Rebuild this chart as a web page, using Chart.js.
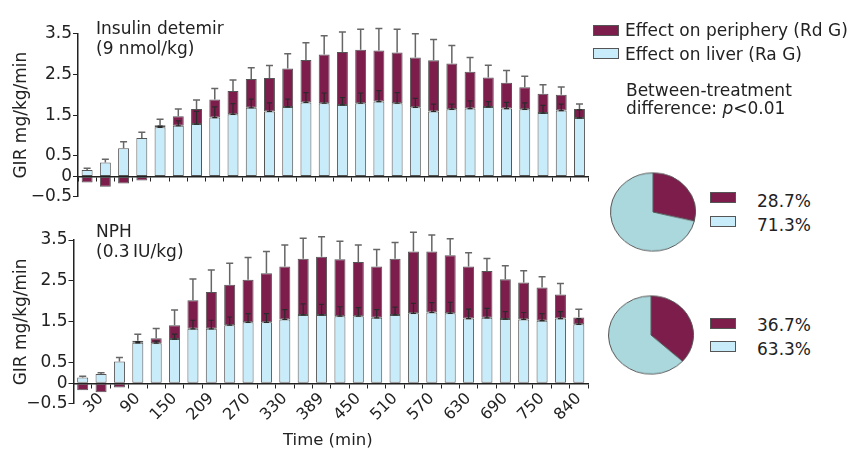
<!DOCTYPE html>
<html>
<head>
<meta charset="utf-8">
<script src="https://cdn.jsdelivr.net/npm/chart.js@4.4.1/dist/chart.umd.min.js"></script>
<style>
  body { margin: 0; background: #fff; font-family: "DejaVu Sans", Verdana, sans-serif; color: #222; }
  #wrap { position: relative; width: 848px; height: 449px; overflow: hidden; }
  .abs { position: absolute; }
  .txt { position: absolute; font-size: 17px; line-height: 20px; white-space: nowrap; }
  .box { position: absolute; width: 24px; height: 9px; border: 1px solid #555; }
</style>
</head>
<body>
<div id="wrap">
  <canvas id="topChart" class="abs" width="600" height="215" style="left:0;top:0"></canvas>
  <canvas id="bottomChart" class="abs" width="600" height="234" style="left:0;top:215px"></canvas>

  <div class="txt" style="left:96px;top:18px">Insulin detemir<br>(9 nmol/kg)</div>
  <div class="txt" style="left:96px;top:221px">NPH<br>(0.3&#8201;IU/kg)</div>
  <div class="txt" style="left:283px;top:430px;font-size:16.5px">Time (min)</div>

  <div class="box" style="left:593px;top:25px;background:#7c1d4c"></div>
  <div class="txt" style="left:625px;top:20px">Effect on periphery (Rd G)</div>
  <div class="box" style="left:593px;top:48px;background:#c8ecfa"></div>
  <div class="txt" style="left:625px;top:44px">Effect on liver (Ra G)</div>
  <div class="txt" style="left:626px;top:81px;line-height:18px">Between-treatment<br>difference: <i>p</i>&lt;0.01</div>

  <div class="abs" style="left:610px;top:169px;transform:scale(1,0.92)"><canvas id="pieTop" width="86" height="86"></canvas></div>
  <div class="box" style="left:710px;top:192px;background:#7c1d4c"></div>
  <div class="box" style="left:710px;top:216px;background:#c8ecfa"></div>
  <div class="txt" style="left:757px;top:189px;line-height:24px">28.7%<br>71.3%</div>

  <div class="abs" style="left:608px;top:292px;transform:scale(1,0.92)"><canvas id="pieBottom" width="86" height="86"></canvas></div>
  <div class="box" style="left:710px;top:318px;background:#7c1d4c"></div>
  <div class="box" style="left:710px;top:341px;background:#c8ecfa"></div>
  <div class="txt" style="left:757px;top:313px;line-height:24px">36.7%<br>63.3%</div>
</div>
<script>
// x labels shown under every other bar
const tickLabels = ['30', '90', '150', '209', '270', '330', '389', '450', '510', '570', '630', '690', '750', '840'];
const yTicks = [-0.5, 0, 0.5, 1.5, 2.5, 3.5];

// insulin detemir
const detemirLiver = [0.16, 0.34, 0.69, 0.94, 1.20, 1.24, 1.28, 1.44, 1.52, 1.68, 1.59, 1.70, 1.81, 1.79, 1.75, 1.79, 1.83, 1.79, 1.69, 1.59, 1.64, 1.66, 1.70, 1.66, 1.64, 1.55, 1.61, 1.43];
const detemirPeriphery = [-0.15, -0.25, -0.17, -0.10, 0.05, 0.23, 0.37, 0.44, 0.57, 0.70, 0.82, 0.94, 1.04, 1.19, 1.29, 1.31, 1.25, 1.24, 1.22, 1.25, 1.12, 0.90, 0.72, 0.63, 0.54, 0.47, 0.39, 0.22];
const detemirErr = [0.04, 0.08, 0.16, 0.14, 0.15, 0.18, 0.22, 0.27, 0.27, 0.28, 0.30, 0.36, 0.42, 0.46, 0.49, 0.50, 0.54, 0.57, 0.58, 0.51, 0.44, 0.35, 0.30, 0.30, 0.27, 0.22, 0.19, 0.12];
const detemirLiverErr = [0, 0, 0, 0, 0.03, 0.12, 0.31, 0.26, 0.26, 0.21, 0.21, 0.19, 0.24, 0.25, 0.18, 0.25, 0.27, 0.26, 0.22, 0.18, 0.13, 0.19, 0.13, 0.15, 0.16, 0.19, 0.16, 0.20];

// NPH
const nphLiver = [0.14, 0.23, 0.53, 0.99, 0.98, 1.08, 1.33, 1.33, 1.42, 1.49, 1.49, 1.56, 1.67, 1.67, 1.64, 1.64, 1.60, 1.67, 1.71, 1.73, 1.71, 1.58, 1.60, 1.57, 1.56, 1.53, 1.58, 1.44];
const nphPeriphery = [-0.17, -0.22, -0.10, 0.05, 0.12, 0.34, 0.70, 0.90, 0.99, 1.04, 1.20, 1.29, 1.37, 1.42, 1.39, 1.32, 1.25, 1.37, 1.51, 1.49, 1.42, 1.27, 1.14, 0.97, 0.90, 0.81, 0.59, 0.17];
const nphErr = [0.03, 0.03, 0.10, 0.16, 0.24, 0.37, 0.52, 0.54, 0.52, 0.54, 0.53, 0.53, 0.50, 0.49, 0.44, 0.42, 0.42, 0.40, 0.47, 0.40, 0.40, 0.34, 0.31, 0.33, 0.29, 0.26, 0.27, 0.20];
const nphLiverErr = [0, 0, 0, 0.03, 0.05, 0.12, 0.21, 0.21, 0.20, 0.21, 0.21, 0.24, 0.27, 0.26, 0.23, 0.21, 0.20, 0.19, 0.24, 0.24, 0.27, 0.23, 0.23, 0.18, 0.17, 0.17, 0.17, 0.14];

const pieDetemir = [28.7, 71.3];
const pieNph = [36.7, 63.3];

const maroon = '#7c1d4c';
const lightBlue = '#c8ecfa';
const pieBlue = '#abd8dd';
const textColor = '#222';

const categories = [];
tickLabels.forEach(t => { categories.push(''); categories.push(t); });

// error bars on top of the stack and on the liver part
const errorBars = {
  id: 'errorBars',
  afterDatasetsDraw(chart, args, opts) {
    const ctx = chart.ctx;
    const y = chart.scales.y;
    const liver = chart.data.datasets[0].data;
    const peri = chart.data.datasets[1].data;
    const meta = chart.getDatasetMeta(0);
    ctx.save();
    for (let i = 0; i < liver.length; i++) {
      const cx = meta.data[i].x;
      const top = liver[i] + Math.max(peri[i], 0);
      const y0 = y.getPixelForValue(top);
      const y1 = y.getPixelForValue(top + opts.total[i]);
      ctx.strokeStyle = '#666';
      ctx.lineWidth = 1.5;
      ctx.beginPath();
      ctx.moveTo(cx, y0); ctx.lineTo(cx, y1);
      ctx.moveTo(cx - 3.5, y1); ctx.lineTo(cx + 3.5, y1);
      ctx.stroke();
      if (peri[i] > 0 && opts.liver[i] > 0) {
        const l0 = y.getPixelForValue(liver[i]);
        const l1 = y.getPixelForValue(liver[i] + opts.liver[i]);
        ctx.strokeStyle = '#2a2a2a';
        ctx.lineWidth = 1.2;
        ctx.beginPath();
        ctx.moveTo(cx, l0); ctx.lineTo(cx, l1);
        ctx.moveTo(cx - 2.5, l1); ctx.lineTo(cx + 2.5, l1);
        ctx.moveTo(cx - 2.5, l0); ctx.lineTo(cx + 2.5, l0);
        ctx.stroke();
      }
    }
    ctx.restore();
  }
};

function barChart(id, liver, periphery, err, liverErr, axisWidth, padding, showLabels) {
  return new Chart(document.getElementById(id), {
    type: 'bar',
    data: {
      labels: categories,
      datasets: [{
        label: 'Effect on liver (Ra G)',
        data: liver,
        backgroundColor: lightBlue,
        borderColor: '#555',
        borderWidth: 1,
        borderSkipped: false,
        barPercentage: 0.6,
        categoryPercentage: 1
      }, {
        label: 'Effect on periphery (Rd G)',
        data: periphery,
        backgroundColor: maroon,
        borderColor: '#555',
        borderWidth: 1,
        borderSkipped: false,
        barPercentage: 0.6,
        categoryPercentage: 1
      }]
    },
    options: {
      responsive: false,
      animation: false,
      layout: { padding: padding },
      plugins: {
        legend: { display: false },
        tooltip: { enabled: false },
        errorBars: { total: err, liver: liverErr }
      },
      scales: {
        x: {
          stacked: true,
          position: { y: 0 },
          grid: { drawOnChartArea: false, drawTicks: true, tickLength: 4, color: '#222' },
          border: { color: '#222', width: 1.5 },
          ticks: {
            display: showLabels,
            autoSkip: false,
            minRotation: 45,
            maxRotation: 45,
            padding: 2,
            color: textColor,
            font: { family: 'DejaVu Sans', size: 16 }
          }
        },
        y: {
          stacked: true,
          min: -0.5,
          max: 3.5,
          afterBuildTicks: axis => { axis.ticks = yTicks.map(v => ({ value: v })); },
          afterFit: axis => { axis.width = axisWidth; },
          grid: { drawOnChartArea: false, tickLength: 5, color: '#222' },
          border: { color: '#222', width: 1.5 },
          ticks: {
            padding: 1,
            color: textColor,
            font: { family: 'DejaVu Sans', size: 17 },
            callback: v => (v < 0 ? '\u2212' + Math.abs(v) : String(v))
          },
          title: {
            display: true,
            text: 'GIR mg/kg/min',
            color: textColor,
            font: { family: 'DejaVu Sans', size: 17 },
            padding: { top: 11, bottom: 0 }
          }
        }
      }
    },
    plugins: [errorBars]
  });
}

barChart('topChart', detemirLiver, detemirPeriphery, detemirErr, detemirLiverErr, 78, { top: 33.3, bottom: 18.1, left: 0, right: 11.4 }, false);
barChart('bottomChart', nphLiver, nphPeriphery, nphErr, nphLiverErr, 73.5, { top: 25, bottom: 45.2, left: 0, right: 12 }, true);

function pieChart(id, values) {
  return new Chart(document.getElementById(id), {
    type: 'pie',
    data: {
      labels: values.map(v => v + '%'),
      datasets: [{
        data: values,
        backgroundColor: [maroon, pieBlue],
        borderColor: '#555',
        borderWidth: 1
      }]
    },
    options: {
      responsive: false,
      animation: false,
      plugins: { legend: { display: false }, tooltip: { enabled: false } }
    }
  });
}

pieChart('pieTop', pieDetemir);
pieChart('pieBottom', pieNph);
</script>
</body>
</html>
